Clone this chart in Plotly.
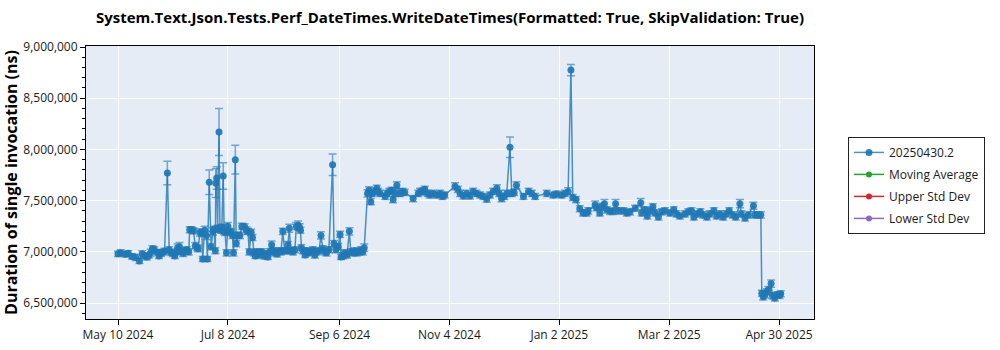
import plotly.graph_objects as go

# Benchmark run timestamps
run_dates = [
    # May - mid July 2024
    "2024-05-10 00:00", "2024-05-11 12:00", "2024-05-14 00:00", "2024-05-15 12:00", "2024-05-17 12:00",
    "2024-05-19 12:00", "2024-05-21 12:00", "2024-05-23 00:00", "2024-05-24 12:00", "2024-05-25 12:00",
    "2024-05-26 12:00", "2024-05-27 12:00", "2024-05-28 12:00", "2024-05-29 12:00", "2024-05-31 00:00",
    "2024-06-01 00:00", "2024-06-02 00:00", "2024-06-03 00:00", "2024-06-04 00:00", "2024-06-05 12:00",
    "2024-06-06 12:00", "2024-06-07 12:00", "2024-06-08 12:00", "2024-06-09 12:00", "2024-06-10 12:00",
    "2024-06-11 00:00", "2024-06-12 00:00", "2024-06-13 00:00", "2024-06-14 00:00", "2024-06-15 00:00",
    "2024-06-16 00:00", "2024-06-17 00:00", "2024-06-17 12:00", "2024-06-18 12:00", "2024-06-19 12:00",
    "2024-06-20 12:00", "2024-06-21 12:00", "2024-06-22 00:00", "2024-06-23 00:00", "2024-06-24 00:00",
    "2024-06-24 12:00", "2024-06-25 12:00", "2024-06-26 12:00", "2024-06-27 00:00", "2024-06-28 00:00",
    "2024-06-29 00:00", "2024-06-30 00:00", "2024-06-30 12:00", "2024-07-01 06:00", "2024-07-01 12:00",
    "2024-07-02 00:00", "2024-07-02 12:00", "2024-07-03 06:00", "2024-07-03 18:00", "2024-07-04 06:00",
    "2024-07-04 18:00", "2024-07-05 12:00", "2024-07-06 00:00", "2024-07-06 12:00", "2024-07-07 06:00",
    "2024-07-08 00:00", "2024-07-08 18:00", "2024-07-09 18:00", "2024-07-10 12:00", "2024-07-11 00:00",
    "2024-07-12 00:00", "2024-07-12 12:00", "2024-07-13 12:00", "2024-07-14 12:00",
    # mid July - mid September 2024
    "2024-07-15 12:00", "2024-07-17 00:00", "2024-07-18 00:00", "2024-07-18 18:00", "2024-07-19 12:00",
    "2024-07-20 12:00", "2024-07-21 06:00", "2024-07-22 00:00", "2024-07-22 18:00", "2024-07-23 12:00",
    "2024-07-24 12:00", "2024-07-25 06:00", "2024-07-26 06:00", "2024-07-27 12:00", "2024-07-28 12:00",
    "2024-07-29 12:00", "2024-07-30 12:00", "2024-07-31 12:00", "2024-08-01 12:00", "2024-08-02 06:00",
    "2024-08-03 12:00", "2024-08-04 12:00", "2024-08-05 12:00", "2024-08-06 12:00", "2024-08-07 12:00",
    "2024-08-08 12:00", "2024-08-09 06:00", "2024-08-10 00:00", "2024-08-10 18:00", "2024-08-12 00:00",
    "2024-08-13 00:00", "2024-08-13 18:00", "2024-08-14 18:00", "2024-08-15 12:00", "2024-08-16 00:00",
    "2024-08-16 12:00", "2024-08-17 06:00", "2024-08-18 12:00", "2024-08-19 12:00", "2024-08-20 12:00",
    "2024-08-21 12:00", "2024-08-22 18:00", "2024-08-23 18:00", "2024-08-24 18:00", "2024-08-26 00:00",
    "2024-08-27 00:00", "2024-08-28 00:00", "2024-08-29 06:00", "2024-08-30 00:00", "2024-08-31 06:00",
    "2024-09-02 06:00", "2024-09-03 00:00", "2024-09-04 00:00", "2024-09-05 06:00", "2024-09-06 06:00",
    "2024-09-06 18:00", "2024-09-07 18:00", "2024-09-08 18:00", "2024-09-10 00:00", "2024-09-11 06:00",
    "2024-09-12 00:00", "2024-09-13 06:00", "2024-09-14 06:00", "2024-09-15 06:00", "2024-09-16 12:00",
    "2024-09-17 12:00", "2024-09-18 12:00", "2024-09-19 06:00",
    # late September 2024 - early January 2025
    "2024-09-21 00:00", "2024-09-21 18:00", "2024-09-22 18:00", "2024-09-23 12:00", "2024-09-24 12:00",
    "2024-09-26 00:00", "2024-09-26 18:00", "2024-09-27 18:00", "2024-09-30 12:00", "2024-10-01 12:00",
    "2024-10-02 18:00", "2024-10-04 00:00", "2024-10-04 18:00", "2024-10-05 18:00", "2024-10-06 18:00",
    "2024-10-08 12:00", "2024-10-09 18:00", "2024-10-11 00:00", "2024-10-15 12:00", "2024-10-18 06:00",
    "2024-10-19 06:00", "2024-10-21 00:00", "2024-10-21 18:00", "2024-10-23 06:00", "2024-10-24 12:00",
    "2024-10-26 06:00", "2024-10-28 06:00", "2024-10-30 00:00", "2024-10-31 06:00", "2024-11-01 12:00",
    "2024-11-07 00:00", "2024-11-08 12:00", "2024-11-09 18:00", "2024-11-11 12:00", "2024-11-13 06:00",
    "2024-11-15 00:00", "2024-11-16 18:00", "2024-11-18 12:00", "2024-11-20 12:00", "2024-11-22 06:00",
    "2024-11-24 00:00", "2024-11-25 18:00", "2024-11-27 12:00", "2024-11-29 12:00", "2024-11-30 18:00",
    "2024-12-02 00:00", "2024-12-03 12:00", "2024-12-04 18:00", "2024-12-06 12:00", "2024-12-07 12:00",
    "2024-12-08 18:00", "2024-12-10 00:00", "2024-12-13 18:00", "2024-12-16 12:00", "2024-12-18 06:00",
    "2024-12-20 00:00", "2024-12-26 06:00", "2024-12-29 18:00", "2024-12-31 12:00", "2025-01-03 06:00",
    "2025-01-05 00:00", "2025-01-06 18:00", "2025-01-08 06:00", "2025-01-09 06:00", "2025-01-11 00:00",
    # January - April 2025
    "2025-01-13 00:00", "2025-01-14 18:00", "2025-01-16 18:00", "2025-01-17 12:00", "2025-01-21 06:00",
    "2025-01-22 00:00", "2025-01-23 18:00", "2025-01-24 18:00", "2025-01-26 06:00", "2025-01-27 12:00",
    "2025-01-29 06:00", "2025-01-31 00:00", "2025-02-01 06:00", "2025-02-02 18:00", "2025-02-05 12:00",
    "2025-02-07 06:00", "2025-02-09 00:00", "2025-02-11 18:00", "2025-02-14 18:00", "2025-02-15 06:00",
    "2025-02-17 00:00", "2025-02-18 06:00", "2025-02-19 18:00", "2025-02-21 06:00", "2025-02-22 12:00",
    "2025-02-24 06:00", "2025-02-26 00:00", "2025-02-27 18:00", "2025-03-02 12:00", "2025-03-04 12:00",
    "2025-03-06 00:00", "2025-03-07 18:00", "2025-03-10 12:00", "2025-03-12 06:00", "2025-03-14 00:00",
    "2025-03-15 06:00", "2025-03-17 00:00", "2025-03-18 18:00", "2025-03-20 06:00", "2025-03-22 06:00",
    "2025-03-23 18:00", "2025-03-26 00:00", "2025-03-27 12:00", "2025-03-29 06:00", "2025-03-31 00:00",
    "2025-04-01 18:00", "2025-04-03 06:00", "2025-04-05 06:00", "2025-04-06 18:00", "2025-04-09 00:00",
    "2025-04-09 18:00", "2025-04-11 18:00", "2025-04-13 12:00", "2025-04-16 06:00", "2025-04-17 00:00",
    "2025-04-18 18:00", "2025-04-20 06:00", "2025-04-20 18:00", "2025-04-21 12:00", "2025-04-22 12:00",
    "2025-04-23 12:00", "2025-04-24 06:00", "2025-04-25 18:00", "2025-04-26 12:00", "2025-04-27 18:00",
    "2025-04-29 00:00", "2025-04-30 06:00", "2025-04-30 22:00",
]

# Mean duration of a single invocation (ns)
durations = [
    6980000, 6990000, 6975000, 6985000, 6955000,
    6945000, 6910000, 6980000, 6960000, 6950000,
    6965000, 6990000, 7030000, 7020000, 6995000,
    6960000, 6985000, 6995000, 7005000, 7770000,
    7020000, 6990000, 6985000, 6960000, 7000000,
    7040000, 7050000, 7005000, 6985000, 7010000,
    7020000, 7000000, 7215000, 7215000, 7205000,
    7060000, 7040000, 7030000, 7190000, 7180000,
    6930000, 7210000, 7160000, 6930000, 7680000,
    7050000, 7200000, 7220000, 7010000, 7670000,
    7720000, 7230000, 8170000, 7220000, 7210000,
    7240000, 7740000, 7200000, 7190000, 6990000,
    7250000, 7200000, 7190000, 7160000, 6990000,
    7900000, 7080000, 7160000, 7160000,
    7250000, 7245000, 7210000, 7200000, 7000000,
    7190000, 7140000, 6990000, 6960000, 7000000,
    6970000, 6990000, 7000000, 6960000, 6980000,
    6950000, 7000000, 7070000, 7010000, 6990000,
    6980000, 7010000, 7000000, 7200000, 7010000,
    7010000, 7070000, 7230000, 7010000, 7000000,
    7020000, 7250000, 7260000, 7240000, 7210000,
    7040000, 7010000, 6970000, 7010000, 6990000,
    7000000, 7020000, 6970000, 7000000, 7010000,
    7160000, 7030000, 7000000, 6990000, 7020000,
    7850000, 7080000, 7020000, 7050000, 7170000,
    6950000, 6960000, 6990000, 6970000, 7200000,
    7000000, 6990000, 7010000, 6990000, 7000000,
    7020000, 7000000, 7040000,
    7570000, 7600000, 7490000, 7570000, 7590000,
    7620000, 7590000, 7570000, 7540000, 7570000,
    7590000, 7600000, 7510000, 7570000, 7650000,
    7570000, 7590000, 7580000, 7520000, 7570000,
    7590000, 7590000, 7610000, 7570000, 7555000,
    7570000, 7555000, 7570000, 7540000, 7555000,
    7640000, 7610000, 7570000, 7545000, 7570000,
    7545000, 7590000, 7570000, 7555000, 7540000,
    7515000, 7555000, 7590000, 7620000, 7570000,
    7520000, 7540000, 7570000, 8020000, 7570000,
    7580000, 7650000, 7540000, 7590000, 7570000,
    7540000, 7570000, 7555000, 7565000, 7555000,
    7570000, 7590000, 8775000, 7530000, 7510000,
    7420000, 7380000, 7380000, 7400000, 7460000,
    7430000, 7380000, 7440000, 7470000, 7410000,
    7395000, 7395000, 7470000, 7400000, 7400000,
    7380000, 7390000, 7425000, 7480000, 7380000,
    7410000, 7350000, 7400000, 7440000, 7380000,
    7340000, 7390000, 7400000, 7380000, 7410000,
    7370000, 7350000, 7370000, 7390000, 7400000,
    7340000, 7370000, 7390000, 7360000, 7340000,
    7370000, 7400000, 7350000, 7370000, 7340000,
    7370000, 7400000, 7360000, 7340000, 7470000,
    7370000, 7330000, 7360000, 7450000, 7360000,
    7360000, 7360000, 6595000, 6560000, 6580000,
    6610000, 6630000, 6690000, 6570000, 6550000,
    6580000, 6575000, 6590000,
]

# Half-width of the error bar around each mean (ns)
spread = [
    25000, 30000, 25000, 25000, 25000,
    30000, 25000, 30000, 25000, 30000,
    25000, 35000, 30000, 30000, 25000,
    25000, 30000, 30000, 30000, 115000,
    30000, 25000, 30000, 25000, 30000,
    35000, 40000, 30000, 30000, 30000,
    30000, 30000, 30000, 30000, 30000,
    30000, 30000, 30000, 35000, 30000,
    25000, 40000, 40000, 25000, 120000,
    30000, 35000, 30000, 30000, 140000,
    110000, 30000, 230000, 30000, 30000,
    30000, 130000, 30000, 30000, 30000,
    35000, 30000, 30000, 30000, 30000,
    140000, 30000, 30000, 30000,
    30000, 30000, 35000, 30000, 30000,
    30000, 30000, 30000, 25000, 30000,
    30000, 30000, 30000, 30000, 30000,
    25000, 30000, 35000, 30000, 30000,
    30000, 30000, 30000, 30000, 30000,
    30000, 30000, 40000, 30000, 30000,
    30000, 35000, 40000, 35000, 30000,
    30000, 30000, 25000, 30000, 30000,
    30000, 30000, 30000, 30000, 30000,
    35000, 30000, 30000, 30000, 30000,
    105000, 30000, 30000, 30000, 30000,
    25000, 30000, 30000, 30000, 35000,
    30000, 30000, 30000, 30000, 30000,
    30000, 30000, 35000,
    35000, 35000, 30000, 30000, 35000,
    30000, 30000, 30000, 30000, 30000,
    30000, 30000, 30000, 30000, 35000,
    30000, 30000, 30000, 30000, 30000,
    30000, 35000, 30000, 30000, 30000,
    30000, 30000, 30000, 30000, 30000,
    35000, 30000, 30000, 30000, 30000,
    30000, 30000, 30000, 30000, 30000,
    30000, 30000, 30000, 35000, 30000,
    30000, 30000, 30000, 100000, 30000,
    30000, 35000, 30000, 30000, 30000,
    30000, 30000, 30000, 30000, 30000,
    30000, 35000, 55000, 30000, 30000,
    30000, 30000, 30000, 30000, 35000,
    30000, 30000, 35000, 40000, 30000,
    30000, 30000, 40000, 30000, 30000,
    30000, 30000, 30000, 40000, 30000,
    30000, 30000, 35000, 30000, 30000,
    30000, 30000, 30000, 30000, 30000,
    30000, 30000, 30000, 30000, 30000,
    30000, 30000, 30000, 30000, 30000,
    30000, 30000, 30000, 30000, 30000,
    30000, 30000, 30000, 30000, 40000,
    30000, 30000, 30000, 35000, 30000,
    30000, 30000, 30000, 30000, 30000,
    30000, 30000, 35000, 30000, 30000,
    30000, 30000, 30000,
]

x_tick_dates = ["2024-05-10", "2024-07-08", "2024-09-06", "2024-11-04",
                "2025-01-02", "2025-03-02", "2025-04-30"]
x_tick_labels = ["May 10 2024", "Jul 8 2024", "Sep 6 2024", "Nov 4 2024",
                 "Jan 2 2025", "Mar 2 2025", "Apr 30 2025"]

series_names = ["20250430.2", "Moving Average", "Upper Std Dev", "Lower Std Dev"]
series_colors = ["#1f77b4", "#2ca02c", "#d62728", "#9467bd"]

FONT = "Open Sans"

fig = go.Figure()

fig.add_trace(go.Scatter(
    x=run_dates,
    y=durations,
    name=series_names[0],
    legendgroup=series_names[0],
    mode="lines+markers",
    line=dict(color="rgba(31,119,180,0.8)", width=1.5),
    marker=dict(color="rgba(31,119,180,0.92)", size=7),
    error_y=dict(type="data", array=spread, visible=True,
                 color="rgba(31,119,180,0.6)", thickness=1.5, width=4),
))

# Statistical overlays (no points in this window, listed in the legend)
for name, color in zip(series_names[1:], series_colors[1:]):
    fig.add_trace(go.Scatter(
        x=[None], y=[None], name=name, legendgroup=name, mode="lines+markers",
        line=dict(color=color, width=1.5), marker=dict(color=color, size=6),
    ))

# Drop shadow behind the legend box
fig.add_shape(type="rect", xref="paper", yref="paper",
              x0=1.0508, x1=1.2294, y0=0.3223, y1=0.6557,
              fillcolor="rgba(0,0,0,0.35)", line=dict(width=0), layer="below")

fig.update_layout(
    width=1000, height=350,
    margin=dict(l=86, r=186, t=46, b=31),
    paper_bgcolor="white",
    plot_bgcolor="#e5ecf6",
    font=dict(family=FONT, size=12, color="#1a1a1a"),
    title=dict(
        text="System.Text.Json.Tests.Perf_DateTimes.WriteDateTimes(Formatted: True, SkipValidation: True)",
        x=0.5, xref="paper", xanchor="center",
        y=1 - 18 / 350, yref="container", yanchor="middle",
        font=dict(family=FONT, size=15, color="black", weight="bold"),
    ),
    showlegend=True,
    legend=dict(
        x=1.0467, xanchor="left", y=0.667, yanchor="top",
        bgcolor="white", bordercolor="#222", borderwidth=1,
        font=dict(family=FONT, size=12, color="#1a1a1a"),
        tracegroupgap=3,
    ),
    xaxis=dict(
        type="date",
        automargin=False,
        range=["2024-04-22 19:30", "2025-05-18 19:00"],
        tickmode="array", tickvals=x_tick_dates, ticktext=x_tick_labels,
        showgrid=True, gridcolor="white", gridwidth=1,
        showline=True, linecolor="black", linewidth=1, mirror=True,
        ticks="outside", ticklen=5, tickcolor="black",
        zeroline=False,
    ),
    yaxis=dict(
        automargin=False,
        range=[6343800, 9009800],
        tickmode="linear", tick0=6500000, dtick=500000,
        tickformat=",d",
        showgrid=True, gridcolor="white", gridwidth=1,
        showline=True, linecolor="black", linewidth=1, mirror=True,
        ticks="outside", ticklen=5, tickcolor="black",
        minor=dict(ticks="outside", ticklen=3, dtick=100000, tickcolor="black", showgrid=False),
        zeroline=False,
        title=dict(text="Duration of single invocation (ns)",
                   font=dict(family=FONT, size=16, color="black", weight="bold"),
                   standoff=8),
    ),
)

fig.write_html("out.html")
